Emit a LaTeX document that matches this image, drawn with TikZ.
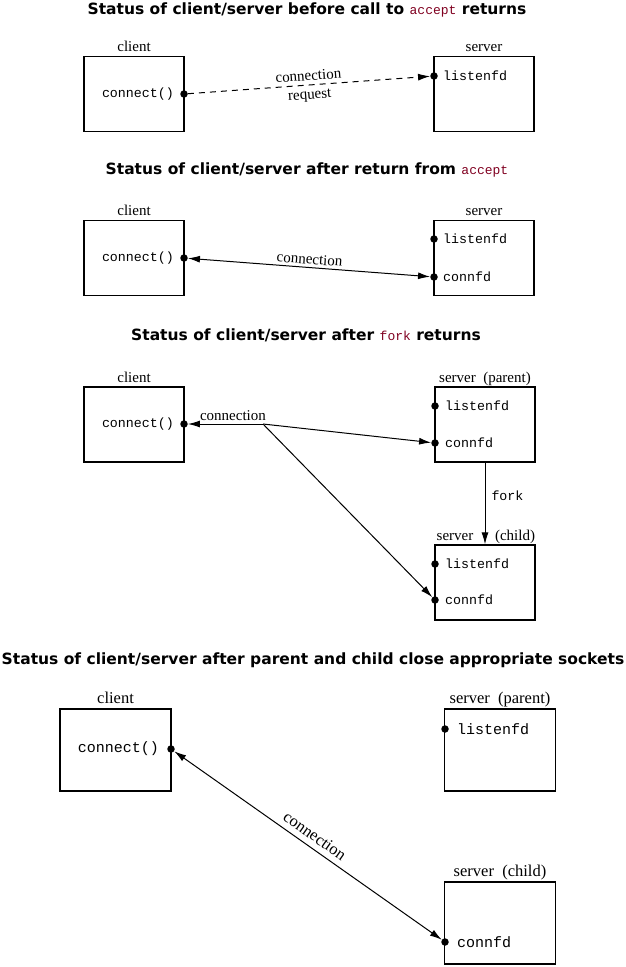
\documentclass[tikz,border=0pt]{standalone}
\usepackage{fontspec}
\setmainfont{Liberation Serif}
\setsansfont{DejaVu Sans}
\setmonofont{Liberation Mono}
\usetikzlibrary{positioning,arrows.meta}
\definecolor{fncolor}{RGB}{128,0,32}
\newcommand{\fn}[1]{{\fontsize{13}{15}\ttfamily\mdseries\color{fncolor}#1}}

\begin{document}
\begin{tikzpicture}
			[
				x = 1pt, y = -1pt,
				box/.style = {draw, line width = 1.3pt, minimum width = 100pt, minimum height = 75pt, inner sep = 0},
				bigbox/.style = {box, minimum width = 111pt, minimum height = 82pt},
				heading/.style = {font = \fontsize{15.5}{18}\selectfont\sffamily\bfseries, inner sep = 0},
				lbl/.style = {font = \fontsize{15}{18}\selectfont, inner sep = 0, text depth = 0},
				biglbl/.style = {lbl, font = \fontsize{16.5}{20}\selectfont},
				code/.style = {font = \fontsize{13.3}{16}\selectfont\ttfamily, inner sep = 0},
				bigcode/.style = {code, font = \fontsize{15}{18}\selectfont\ttfamily},
				dot/.style = {circle, fill, inner sep = 0, minimum size = 7.5pt},
				conn/.style = {line width = 1pt},
				tip/.style = {-{Latex[length = 12pt, width = 7pt]}},
				tips/.style = {{Latex[length = 12pt, width = 7pt]}-{Latex[length = 12pt, width = 7pt]}}
			]
			\useasboundingbox (0,0) rectangle (626,967);

			\node[heading] (t1) at (307,10) {Status of client/server before call to \fn{accept} returns};
			\node[box] (cli1) at (134,94) {};
			\node[box] (srv1) at (484,94) {};
			\node[lbl, above = 4pt of cli1] {client};
			\node[lbl, above = 4pt of srv1] {server};
			\node[dot] (cd1) at (184,94) {};
			\node[dot] (lf1) at (434,76) {};
			\node[code, left = 6pt of cd1] {connect()};
			\node[code, right = 5pt of lf1] {listenfd};
			\draw[conn, tip, dash pattern = on 6pt off 5pt] (cd1) -- node[lbl, sloped, above = 4pt] {connection} node[lbl, sloped, below = 5pt] {request} (lf1);

			\node[heading] (t2) at (307,170) {Status of client/server after return from \fn{accept}};
			\node[box] (cli2) at (134,258) {};
			\node[box] (srv2) at (484,258) {};
			\node[lbl, above = 4pt of cli2] {client};
			\node[lbl, above = 4pt of srv2] {server};
			\node[dot] (cd2) at (184,258) {};
			\node[dot] (lf2) at (434,239) {};
			\node[dot] (cf2) at (434,277) {};
			\node[code, left = 6pt of cd2] {connect()};
			\node[code, right = 5pt of lf2] {listenfd};
			\node[code, right = 5pt of cf2] {connfd};
			\draw[conn, tips] (cd2) -- node[lbl, sloped, above = 3pt] {connection} (cf2);

			\node[heading] (t3) at (306,335) {Status of client/server after \fn{fork} returns};
			\node[box] (cli3) at (134,424.5) {};
			\node[box] (par3) at (485,424.5) {};
			\node[box] (chd3) at (485,582.5) {};
			\node[lbl, above = 4pt of cli3] {client};
			\node[lbl, above = 4pt of par3] {server~~(parent)};
			\node[lbl, anchor = base] at (455,540) {server};
			\node[lbl, anchor = base] at (515,540) {(child)};
			\node[dot] (cd3) at (184,424) {};
			\node[dot] (lf3) at (435,406) {};
			\node[dot] (cf3) at (435,443) {};
			\node[dot] (lc3) at (435,564) {};
			\node[dot] (cc3) at (435,600) {};
			\coordinate (j3) at (263,424);
			\node[code, left = 6pt of cd3] {connect()};
			\node[code, right = 6pt of lf3] {listenfd};
			\node[code, right = 6pt of cf3] {connfd};
			\node[code, right = 6pt of lc3] {listenfd};
			\node[code, right = 6pt of cc3] {connfd};
			\draw[conn, tip] (j3) -- node[lbl, above = 3pt, pos = 0.4] {connection} (cd3);
			\draw[conn, tip] (j3) -- (cf3);
			\draw[conn, tip] (j3) -- (cc3);
			\draw[conn, tip] (par3) -- node[code, right = 6pt, pos = 0.4] {fork} (chd3);

			\node[heading] (t4) at (313,660) {Status of client/server after parent and child close appropriate sockets};
			\node[bigbox] (cli4) at (115.5,750) {};
			\node[bigbox] (par4) at (500,750) {};
			\node[bigbox] (chd4) at (500,923) {};
			\node[biglbl, above = 5pt of cli4] {client};
			\node[biglbl, above = 5pt of par4] {server~~(parent)};
			\node[biglbl, above = 5pt of chd4] {server~~(child)};
			\node[dot] (cd4) at (171,749) {};
			\node[dot] (lf4) at (445,729) {};
			\node[dot] (cc4) at (445,942) {};
			\node[bigcode, left = 8pt of cd4] {connect()};
			\node[bigcode, right = 8pt of lf4] {listenfd};
			\node[bigcode, right = 8pt of cc4] {connfd};
			\draw[conn, tips] (cd4) -- node[biglbl, sloped, above = 6pt] {connection} (cc4);
\end{tikzpicture}
\end{document}
